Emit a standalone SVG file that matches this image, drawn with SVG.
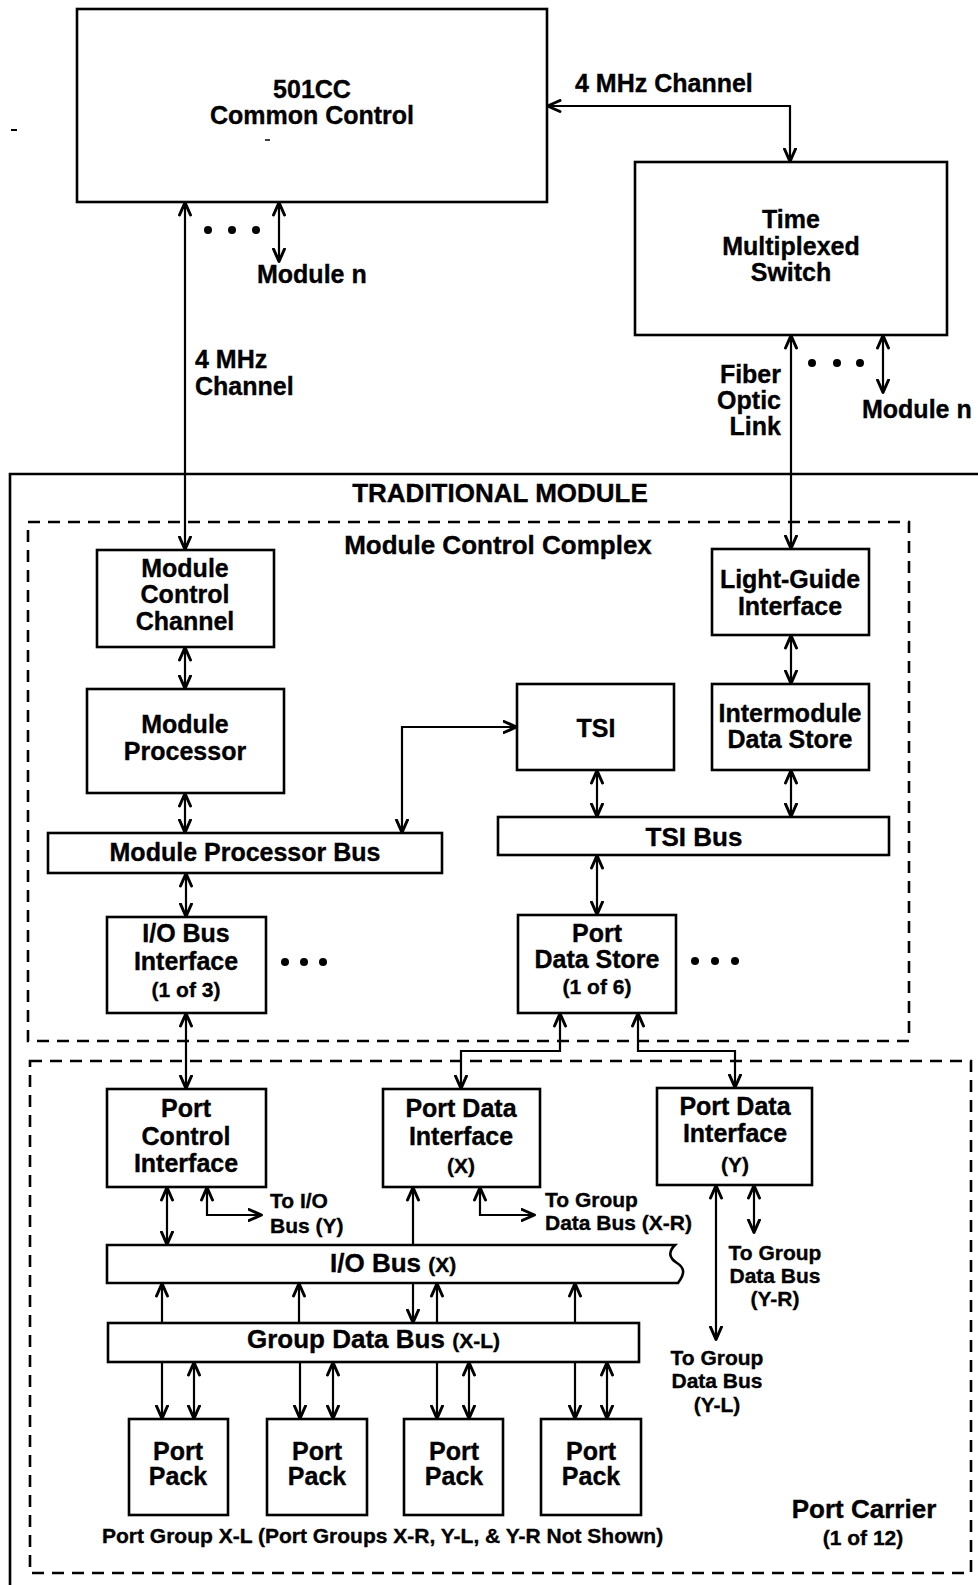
<svg xmlns="http://www.w3.org/2000/svg" width="978" height="1585" viewBox="0 0 978 1585">
  <style>
    .box { fill: #fff; stroke: #000; stroke-width: 2.6; }
    .frame { fill: none; stroke: #000; stroke-width: 2.6; }
    .dash { fill: none; stroke: #000; stroke-width: 2.6; stroke-dasharray: 12 8; }
    .wire { fill: none; stroke: #000; stroke-width: 2.2; }
    .bi { marker-start: url(#ah); marker-end: url(#ah); }
    .to { marker-end: url(#ah); }
    .t { font-family: "Liberation Sans", Arial, sans-serif; font-weight: bold; font-size: 25px; text-anchor: middle; fill: #000; stroke: #000; stroke-width: 0.35; }
    .h { font-size: 26px; }
    .s { font-size: 21px; }
    .l { text-anchor: start; }
    .r { text-anchor: end; }
    .dot { fill: #000; }
  </style>
  <defs>
    <marker id="ah" viewBox="0 0 16 14" refX="14.5" refY="7" markerWidth="16" markerHeight="14" markerUnits="userSpaceOnUse" orient="auto-start-reverse">
      <path d="M1.5,1.5 L14,7 L1.5,12.5" fill="none" stroke="#000" stroke-width="3" stroke-linejoin="round" stroke-linecap="round"/>
    </marker>
  </defs>
  <rect width="978" height="1585" fill="#fff"/>

  <!-- enclosing frames -->
  <g id="traditional-module">
    <path class="frame" d="M978,474 H10 V1585"/>
    <text class="t h" x="500" y="502">TRADITIONAL MODULE</text>
  </g>
  <g id="module-control-complex">
    <rect class="dash" x="28" y="522" width="881" height="519"/>
    <text class="t h" x="498" y="554">Module Control Complex</text>
  </g>
  <g id="port-carrier">
    <rect class="dash" x="30" y="1061" width="941" height="512"/>
    <text class="t h" x="864" y="1518">Port Carrier</text>
    <text class="t s" x="863" y="1545">(1 of 12)</text>
  </g>

  <!-- connectors -->
  <g id="connectors">
    <line class="wire bi" x1="185" y1="202" x2="185" y2="550"/>
    <line class="wire bi" x1="279" y1="202" x2="279" y2="262"/>
    <path class="wire bi" d="M547,106 H790 V162"/>
    <line class="wire bi" x1="791" y1="335" x2="791" y2="549"/>
    <line class="wire bi" x1="883" y1="335" x2="883" y2="393"/>
    <line class="wire bi" x1="185" y1="647" x2="185" y2="689"/>
    <line class="wire bi" x1="185" y1="793" x2="185" y2="833"/>
    <path class="wire bi" d="M402,833 V727 H517"/>
    <line class="wire bi" x1="791" y1="635" x2="791" y2="684"/>
    <line class="wire bi" x1="597" y1="770" x2="597" y2="817"/>
    <line class="wire bi" x1="791" y1="770" x2="791" y2="817"/>
    <line class="wire bi" x1="186" y1="873" x2="186" y2="917"/>
    <line class="wire bi" x1="597" y1="855" x2="597" y2="915"/>
    <line class="wire bi" x1="186" y1="1013" x2="186" y2="1089"/>
    <path class="wire bi" d="M560,1013 V1051 H461 V1089"/>
    <path class="wire bi" d="M638,1013 V1051 H735 V1088"/>
    <line class="wire bi" x1="167" y1="1187" x2="167" y2="1245"/>
    <path class="wire bi" d="M207,1187 V1215 H262"/>
    <line class="wire to" x1="413" y1="1245" x2="413" y2="1187"/>
    <path class="wire bi" d="M480,1187 V1215 H535"/>
    <line class="wire bi" x1="716" y1="1185" x2="716" y2="1340"/>
    <line class="wire bi" x1="754" y1="1185" x2="754" y2="1233"/>
    <!-- group data bus to I/O bus -->
    <line class="wire to" x1="162" y1="1323" x2="162" y2="1283"/>
    <line class="wire to" x1="299" y1="1323" x2="299" y2="1283"/>
    <line class="wire to" x1="413" y1="1283" x2="413" y2="1323"/>
    <line class="wire to" x1="437" y1="1323" x2="437" y2="1283"/>
    <line class="wire to" x1="575" y1="1323" x2="575" y2="1283"/>
    <!-- group data bus to port packs -->
    <line class="wire to" x1="162" y1="1362" x2="162" y2="1419"/>
    <line class="wire bi" x1="194" y1="1362" x2="194" y2="1419"/>
    <line class="wire to" x1="300" y1="1362" x2="300" y2="1419"/>
    <line class="wire bi" x1="333" y1="1362" x2="333" y2="1419"/>
    <line class="wire to" x1="437" y1="1362" x2="437" y2="1419"/>
    <line class="wire bi" x1="469" y1="1362" x2="469" y2="1419"/>
    <line class="wire to" x1="575" y1="1362" x2="575" y2="1419"/>
    <line class="wire bi" x1="607" y1="1362" x2="607" y2="1419"/>
  </g>

  <!-- nodes -->
  <g id="common-control">
    <rect class="box" x="77" y="9" width="470" height="193"/>
    <text class="t" x="312" y="98">501CC</text>
    <text class="t" x="312" y="124">Common Control</text>
    <line x1="265" y1="140" x2="270" y2="140" stroke="#000" stroke-width="1.5"/>
  </g>
  <line x1="11" y1="130" x2="17" y2="130" stroke="#000" stroke-width="2"/>

  <g id="time-multiplexed-switch">
    <rect class="box" x="635" y="162" width="312" height="173"/>
    <text class="t" x="791" y="228">Time</text>
    <text class="t" x="791" y="255">Multiplexed</text>
    <text class="t" x="791" y="281">Switch</text>
  </g>

  <g id="module-control-channel">
    <rect class="box" x="97" y="550" width="177" height="97"/>
    <text class="t" x="185" y="577">Module</text>
    <text class="t" x="185" y="603">Control</text>
    <text class="t" x="185" y="630">Channel</text>
  </g>

  <g id="module-processor">
    <rect class="box" x="87" y="689" width="197" height="104"/>
    <text class="t" x="185" y="733">Module</text>
    <text class="t" x="185" y="760">Processor</text>
  </g>

  <g id="module-processor-bus">
    <rect class="box" x="48" y="833" width="394" height="40"/>
    <text class="t" x="245" y="861">Module Processor Bus</text>
  </g>

  <g id="tsi">
    <rect class="box" x="517" y="684" width="157" height="86"/>
    <text class="t" x="596" y="737">TSI</text>
  </g>

  <g id="light-guide-interface">
    <rect class="box" x="712" y="549" width="157" height="86"/>
    <text class="t" x="790" y="588">Light-Guide</text>
    <text class="t" x="790" y="615">Interface</text>
  </g>

  <g id="intermodule-data-store">
    <rect class="box" x="712" y="684" width="157" height="86"/>
    <text class="t" x="790" y="722">Intermodule</text>
    <text class="t" x="790" y="748">Data Store</text>
  </g>

  <g id="tsi-bus">
    <rect class="box" x="498" y="817" width="391" height="38"/>
    <text class="t h" x="694" y="846">TSI Bus</text>
  </g>

  <g id="io-bus-interface">
    <rect class="box" x="107" y="917" width="159" height="96"/>
    <text class="t" x="186" y="942">I/O Bus</text>
    <text class="t" x="186" y="970">Interface</text>
    <text class="t s" x="186" y="997">(1 of 3)</text>
    <circle class="dot" cx="285" cy="962" r="4"/>
    <circle class="dot" cx="304" cy="962" r="4"/>
    <circle class="dot" cx="323" cy="962" r="4"/>
  </g>

  <g id="port-data-store">
    <rect class="box" x="518" y="915" width="158" height="98"/>
    <text class="t" x="597" y="942">Port</text>
    <text class="t" x="597" y="968">Data Store</text>
    <text class="t s" x="597" y="994">(1 of 6)</text>
    <circle class="dot" cx="695" cy="961" r="4"/>
    <circle class="dot" cx="715" cy="961" r="4"/>
    <circle class="dot" cx="735" cy="961" r="4"/>
  </g>

  <g id="port-control-interface">
    <rect class="box" x="107" y="1089" width="159" height="98"/>
    <text class="t" x="186" y="1117">Port</text>
    <text class="t" x="186" y="1145">Control</text>
    <text class="t" x="186" y="1172">Interface</text>
  </g>

  <g id="port-data-interface-x">
    <rect class="box" x="383" y="1089" width="157" height="98"/>
    <text class="t" x="461" y="1117">Port Data</text>
    <text class="t" x="461" y="1145">Interface</text>
    <text class="t s" x="461" y="1173">(X)</text>
  </g>

  <g id="port-data-interface-y">
    <rect class="box" x="657" y="1088" width="155" height="97"/>
    <text class="t" x="735" y="1115">Port Data</text>
    <text class="t" x="735" y="1142">Interface</text>
    <text class="t s" x="735" y="1172">(Y)</text>
  </g>

  <g id="io-bus-x">
    <path class="box" d="M107,1245 H675 C668,1252 669,1258 677,1263 C685,1268 685,1274 678,1283 H107 Z"/>
    <text class="t h l" x="330" y="1272">I/O Bus <tspan font-size="21">(X)</tspan></text>
  </g>

  <g id="group-data-bus-xl">
    <rect class="box" x="108" y="1323" width="531" height="39"/>
    <text class="t h l" x="247" y="1348">Group Data Bus <tspan font-size="21">(X-L)</tspan></text>
  </g>

  <g id="port-pack-1">
    <rect class="box" x="129" y="1419" width="99" height="96"/>
    <text class="t" x="178" y="1460">Port</text>
    <text class="t" x="178" y="1485">Pack</text>
  </g>
  <g id="port-pack-2">
    <rect class="box" x="267" y="1419" width="100" height="96"/>
    <text class="t" x="317" y="1460">Port</text>
    <text class="t" x="317" y="1485">Pack</text>
  </g>
  <g id="port-pack-3">
    <rect class="box" x="404" y="1419" width="99" height="96"/>
    <text class="t" x="454" y="1460">Port</text>
    <text class="t" x="454" y="1485">Pack</text>
  </g>
  <g id="port-pack-4">
    <rect class="box" x="541" y="1419" width="100" height="96"/>
    <text class="t" x="591" y="1460">Port</text>
    <text class="t" x="591" y="1485">Pack</text>
  </g>

  <!-- free labels -->
  <g id="labels">
    <text class="t l" x="575" y="92">4 MHz Channel</text>
    <text class="t l" x="257" y="283">Module n</text>
    <circle class="dot" cx="208" cy="230" r="4"/>
    <circle class="dot" cx="232" cy="230" r="4"/>
    <circle class="dot" cx="256" cy="230" r="4"/>
    <text class="t l" x="195" y="368">4 MHz</text>
    <text class="t l" x="195" y="395">Channel</text>
    <text class="t r" x="781" y="383">Fiber</text>
    <text class="t r" x="781" y="409">Optic</text>
    <text class="t r" x="781" y="435">Link</text>
    <circle class="dot" cx="812" cy="363" r="4"/>
    <circle class="dot" cx="837" cy="363" r="4"/>
    <circle class="dot" cx="860" cy="363" r="4"/>
    <text class="t l" x="862" y="418">Module n</text>
    <text class="t s l" x="270" y="1208">To I/O</text>
    <text class="t s l" x="270" y="1233">Bus (Y)</text>
    <text class="t s l" x="545" y="1207">To Group</text>
    <text class="t s l" x="545" y="1230">Data Bus (X-R)</text>
    <text class="t s" x="775" y="1260">To Group</text>
    <text class="t s" x="775" y="1283">Data Bus</text>
    <text class="t s" x="775" y="1306">(Y-R)</text>
    <text class="t s" x="717" y="1365">To Group</text>
    <text class="t s" x="717" y="1388">Data Bus</text>
    <text class="t s" x="717" y="1412">(Y-L)</text>
    <text class="t s l" x="102" y="1543">Port Group X-L (Port Groups X-R, Y-L, &amp; Y-R Not Shown)</text>
  </g>
</svg>
